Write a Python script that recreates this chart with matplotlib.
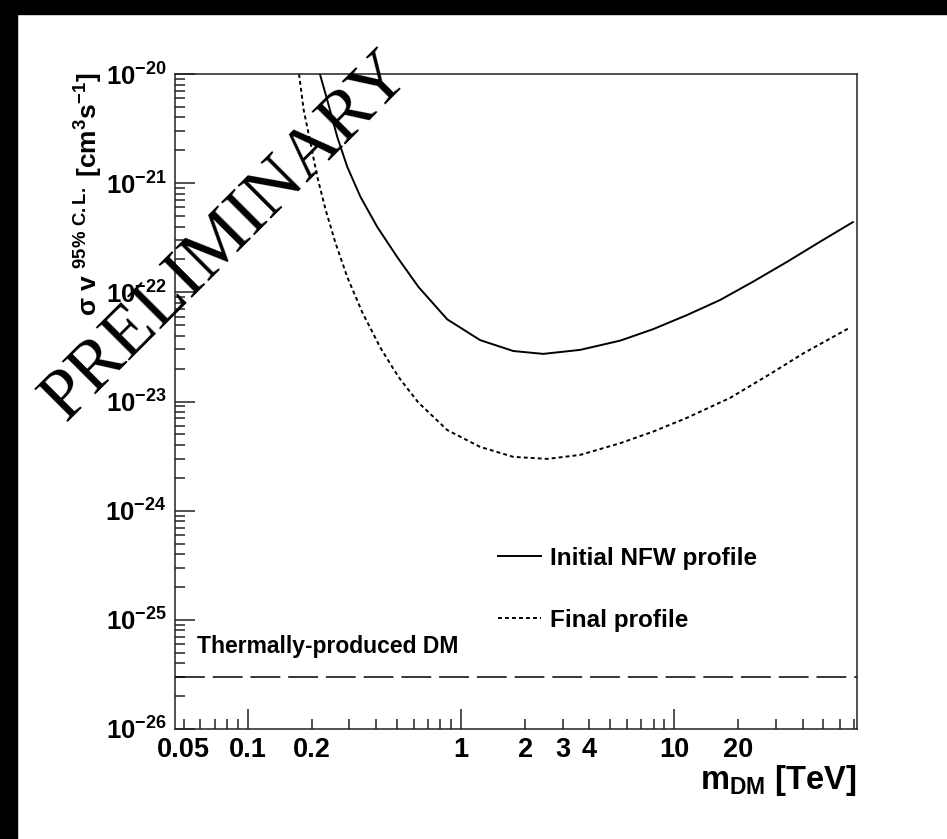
#!/usr/bin/env python3
"""
Upper limit on the DM annihilation cross-section vs DM mass
(initial NFW profile vs final profile), ROOT-style log-log plot.
"""

import matplotlib
matplotlib.use("Agg")
import matplotlib.pyplot as plt
from matplotlib.patches import Rectangle

plt.rcParams["font.family"] = ["Liberation Sans", "DejaVu Sans"]
plt.rcParams["font.weight"] = "bold"
plt.rcParams["mathtext.fontset"] = "custom"
plt.rcParams["mathtext.rm"] = "Liberation Sans:bold"
plt.rcParams["mathtext.it"] = "Liberation Sans:bold"
plt.rcParams["mathtext.bf"] = "Liberation Sans:bold"

# Initial NFW profile (solid)
nfw_mass = [0.218, 0.236, 0.263, 0.293, 0.338, 0.405, 0.502, 0.632, 0.863,
            1.23, 1.76, 2.43, 3.62, 5.58, 7.97, 11.5, 16.4, 23.4, 33.8, 48.2,
            68.9]
nfw_sigv = [1.0e-20, 5.78e-21, 2.65e-21, 1.41e-21, 7.48e-22, 3.97e-22,
            2.11e-22, 1.12e-22, 5.65e-23, 3.65e-23, 2.9e-23, 2.73e-23,
            2.97e-23, 3.61e-23, 4.6e-23, 6.2e-23, 8.5e-23, 1.25e-22, 1.9e-22,
            2.9e-22, 4.4e-22]

# Final profile (dotted)
final_mass = [0.174, 0.183, 0.197, 0.212, 0.232, 0.258, 0.293, 0.344, 0.419,
              0.482, 0.520, 0.631, 0.863, 1.23, 1.76, 2.54, 3.62, 5.58, 7.97,
              11.5, 18.3, 28.1, 40.2, 66.7]
final_sigv = [1.0e-20, 4.68e-21, 2.33e-21, 1.14e-21, 5.69e-22, 2.83e-22,
              1.38e-22, 6.6e-23, 3.11e-23, 1.99e-23, 1.59e-23, 9.8e-24,
              5.47e-24, 3.84e-24, 3.11e-24, 2.98e-24, 3.24e-24, 4.15e-24,
              5.3e-24, 7.1e-24, 1.08e-23, 1.78e-23, 2.75e-23, 4.75e-23]

# Thermal relic cross-section
thermal_sigv = 3e-26

y_ticks = [1e-20, 1e-21, 1e-22, 1e-23, 1e-24, 1e-25, 1e-26]
y_labels = [r"$10^{-20}$", r"$10^{-21}$", r"$10^{-22}$", r"$10^{-23}$",
            r"$10^{-24}$", r"$10^{-25}$", r"$10^{-26}$"]
x_major = [0.1, 1, 10]
x_major_labels = ["0.1", "1", "10"]
x_minor = [0.05, 0.06, 0.07, 0.08, 0.09,
           0.2, 0.3, 0.4, 0.5, 0.6, 0.7, 0.8, 0.9,
           2, 3, 4, 5, 6, 7, 8, 9,
           20, 30, 40, 50, 60, 70]
x_minor_labels = {0.05: "0.05", 0.2: "0.2", 2: "2", 3: "3", 4: "4", 20: "20"}

fig = plt.figure(figsize=(9.47, 8.39), dpi=100)

# black scan borders (left and top)
fig.patches.append(Rectangle((0, 0), 17 / 947, 1, transform=fig.transFigure,
                             color="black", zorder=0))
fig.patches.append(Rectangle((0, 1 - 14 / 839), 1, 14 / 839,
                             transform=fig.transFigure, color="black", zorder=0))

ax = fig.add_axes([175 / 947, 1 - 729 / 839, 682 / 947, 655 / 839])
ax.set_xscale("log")
ax.set_yscale("log")
ax.set_xlim(0.0456, 72)
ax.set_ylim(1e-26, 1e-20)

ax.plot(nfw_mass, nfw_sigv, color="black", lw=1.4, label="Initial NFW profile")
ax.plot(final_mass, final_sigv, color="black", lw=1.4, dashes=(2.0, 1.6),
        label="Final profile")
ax.axhline(thermal_sigv, color="black", lw=1.1, dashes=(19.5, 5.2))

ax.text(0.032, 0.126, "Thermally-produced DM", transform=ax.transAxes,
        fontsize=16.5, fontweight="bold", ha="left", va="center")

ax.legend(loc="upper left", bbox_to_anchor=(0.4736, 0.278), frameon=False,
          fontsize=17.5, handlelength=1.75, handletextpad=0.4,
          labelspacing=1.6, borderpad=0, borderaxespad=0)

# ticks, ROOT style
ax.set_yticks(y_ticks)
ax.set_yticklabels(y_labels)
ax.set_xticks(x_major)
ax.set_xticklabels(x_major_labels)
ax.set_xticks(x_minor, minor=True)
ax.set_xticklabels([x_minor_labels.get(v, "") for v in x_minor], minor=True)
ax.tick_params(which="both", direction="in", top=False, right=False,
               width=1.1, color="#222222")
ax.tick_params(which="major", length=14.4)
ax.tick_params(which="minor", length=7.2)
ax.tick_params(axis="x", which="both", pad=6, labelsize=19.5)
ax.tick_params(axis="y", which="both", pad=6, labelsize=18.5)
for s in ax.spines.values():
    s.set_linewidth(1.1)
    s.set_color("#222222")

ax.set_xlabel(r"m$_{\mathrm{DM}}$ [TeV]", loc="right", fontsize=23.5,
              fontweight="bold", labelpad=0)
ax.set_ylabel(r"σ v $^{95\%\ \mathrm{C.L.}}$ [cm$^{3}$s$^{-1}$]", loc="top",
              fontsize=19, fontweight="bold")
ax.yaxis.set_label_coords(-0.102, 1.003)

# watermark
fig.text(227 / 947, 1 - 237 / 839, "PRELIMINARY", family="Liberation Serif",
         fontweight="normal", fontsize=52, rotation=45, rotation_mode="anchor",
         ha="center", va="center", zorder=10)

fig.savefig("out.png", dpi=100)
